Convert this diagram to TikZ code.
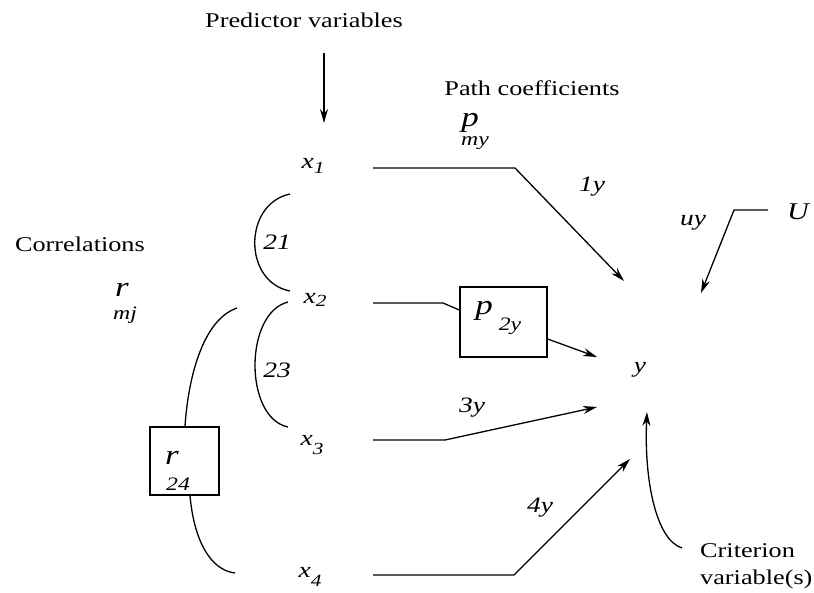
\documentclass[tikz,border=0pt]{standalone}
\usepackage{fontspec}
\setmainfont[FakeStretch=1.25]{Liberation Serif}
\usetikzlibrary{arrows.meta}
\newcommand{\lowsub}[3]{#1\raisebox{-#3}{\fontsize{17}{18}\selectfont #2}}
\begin{document}
\begin{tikzpicture}[x=1pt,y=-1pt,
  lbl/.style={inner sep=0pt, font=\fontsize{21}{27}\selectfont},
  var/.style={inner sep=0pt, font=\fontsize{22}{24}\selectfont\itshape},
  big/.style={inner sep=0pt, font=\fontsize{28}{30}\selectfont\itshape},
  sub/.style={inner sep=0pt, font=\fontsize{19}{20}\selectfont\itshape},
  ln/.style={line width=1.3pt},
  arr/.style={ln, -{Stealth[length=14pt,width=8pt]}},
  boxed/.style={draw, line width=1.3pt, inner sep=0pt}]
\useasboundingbox (0,0) rectangle (814,593);

% headings
\node[lbl] (pred) at (304,20) {Predictor variables};
\node[lbl] (path) at (532,88) {Path coefficients};
\node[lbl, anchor=east] (corr) at (145,244) {Correlations};
\node[lbl, anchor=west, align=left] (crit) at (700,566) {Criterion\\variable(s)};

\coordinate (ps) at (324,53);
\coordinate (pe) at (324,123);
\draw[arr] (ps) -- (pe);

% p_my and r_mj
\node[big] (pmy) at (470,123) {p};
\node[sub] (pmysub) at (475,143) {my};
\node[big] (rmj) at (122,290) {r};
\node[sub] (rmjsub) at (125,315) {mj};

% variables
\node[var] (x1) at (313,166) {\lowsub{x}{1}{5pt}};
\node[var] (x2) at (315,300) {\lowsub{x}{2}{3pt}};
\node[var] (x3) at (312,445) {\lowsub{x}{3}{9pt}};
\node[var] (x4) at (310,577) {\lowsub{x}{4}{9pt}};
\node[var] (y) at (640,370) {y};
\node[var, font=\fontsize{24}{26}\selectfont\itshape] (U) at (798,212) {U};

% coefficient labels
\node[var] (l1y) at (592,187) {1y};
\node[var] (luy) at (693,223) {uy};
\node[var] (l3y) at (472,408) {3y};
\node[var] (l4y) at (540,508) {4y};
\node[var] (l21) at (277,242) {21};
\node[var] (l23) at (277,370) {23};

% boxes
\node[boxed, minimum width=87pt, minimum height=70pt] (p2y) at (503.5,322) {};
\node[big] (p2yp) at (484,311) {p};
\node[sub] (p2ysub) at (510,326) {2y};
\node[boxed, minimum width=69pt, minimum height=68pt] (r24) at (184.5,461) {};
\node[big] (r24r) at (172,458) {r};
\node[sub] (r24sub) at (178,484) {24};

% connector endpoints
\coordinate (a1) at (373,168);
\coordinate (b1) at (515,168);
\coordinate (t1) at (624,281);
\coordinate (a2) at (373,303);
\coordinate (b2) at (443,303);
\coordinate (t2) at (597,357);
\coordinate (a3) at (373,440);
\coordinate (b3) at (445,440);
\coordinate (t3) at (597,407);
\coordinate (a4) at (373,575);
\coordinate (b4) at (514,575);
\coordinate (t4) at (630,459);
\coordinate (u1) at (768,210);
\coordinate (u2) at (734,210);
\coordinate (tu) at (701,293);
\coordinate (c1) at (682,548);
\coordinate (tc) at (647,412);

\draw[arr] (a1) -- (b1) -- (t1);
\draw[ln] (a2) -- (b2) -- (p2y.west |- 0,310);
\draw[arr] (p2y.east |- 0,339) -- (t2);
\draw[arr] (a3) -- (b3) -- (t3);
\draw[arr] (a4) -- (b4) -- (t4);
\draw[arr] (u1) -- (u2) -- (tu);
\draw[arr] (c1) .. controls (656,540) and (644,480) .. (tc);

% correlation brackets
\coordinate (k1) at (290,194);
\coordinate (k2) at (290,291);
\coordinate (k3) at (288,302);
\coordinate (k4) at (288,427);
\coordinate (k5) at (237,308);
\coordinate (k6) at (235,573);
\draw[ln] (k1) .. controls (243,204) and (243,282) .. (k2);
\draw[ln] (k3) .. controls (244,313) and (244,418) .. (k4);
\draw[ln] (k5) .. controls (202,320) and (188,380) .. (r24.north -| 185,0);
\draw[ln] (r24.south -| 190,0) .. controls (194,540) and (210,570) .. (k6);
\end{tikzpicture}
\end{document}
